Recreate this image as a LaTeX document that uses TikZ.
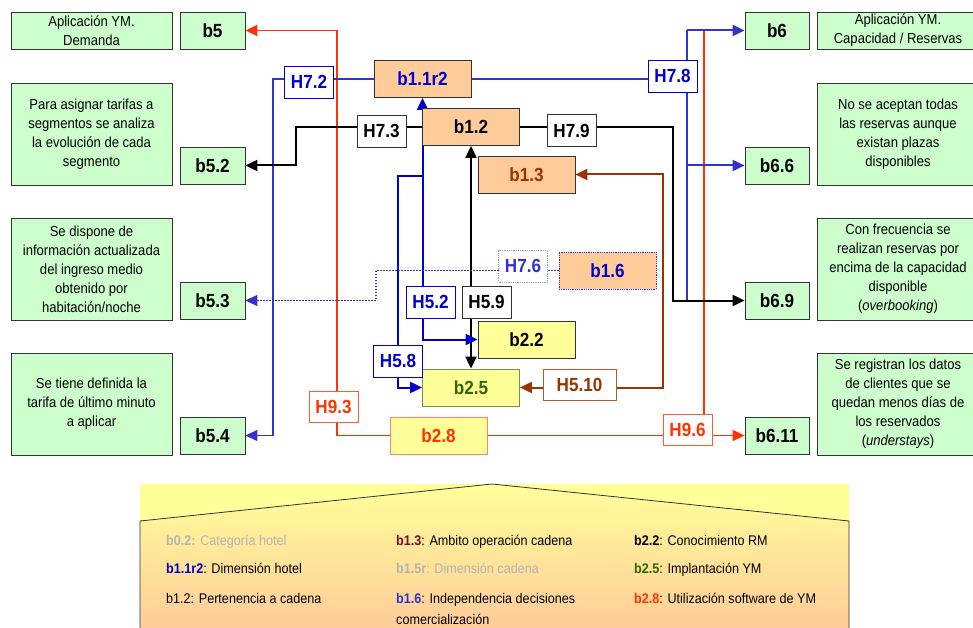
\documentclass[tikz,border=0pt]{standalone}
\usepackage{fontspec}
\setmainfont{Liberation Sans}[FakeStretch=0.9]
\usetikzlibrary{arrows.meta,backgrounds}
\definecolor{grn}{HTML}{CCFFCC}
\definecolor{org}{HTML}{FFCC99}
\definecolor{yel}{HTML}{FFFF99}
\definecolor{redl}{HTML}{FF3300}
\definecolor{bluem}{HTML}{3333CC}
\definecolor{blued}{HTML}{0000CC}
\definecolor{brn}{HTML}{993300}
\definecolor{grnt}{HTML}{336600}
\definecolor{lgray}{HTML}{B4B4B4}
\definecolor{maroon}{HTML}{7A0A2A}
\tikzset{
  desc/.style={draw=black!80, fill=grn, line width=0.8pt, align=center, inner sep=0pt,
    font=\fontsize{14.5}{19}\selectfont},
  bbox/.style={draw=black!80, fill=grn, line width=0.8pt, minimum width=65pt, minimum height=37pt,
    inner sep=0pt, font=\fontsize{19}{22}\selectfont\bfseries},
  cbox/.style={draw=black!80, fill=org, line width=0.8pt, minimum width=97pt, minimum height=37pt,
    inner sep=0pt, font=\fontsize{19}{22}\selectfont\bfseries},
  hbox/.style={draw, fill=white, line width=0.8pt, minimum width=49pt, minimum height=32pt,
    inner sep=0pt, font=\fontsize{19}{22}\selectfont\bfseries},
  leg/.style={anchor=base west, inner sep=0pt, font=\fontsize{14}{21}\selectfont},
  arr/.style={-{Triangle[length=12pt,width=11pt]}},
  arrb/.style={{Triangle[length=12pt,width=11pt]}-{Triangle[length=12pt,width=11pt]}},
  lnred/.style={draw=redl, line width=1.6pt},
  lnblue/.style={draw=bluem, line width=1.3pt},
  lnblue2/.style={draw=bluem, line width=2pt},
  lnblk/.style={draw=black, line width=2pt},
  lndblue/.style={draw=blued, line width=2pt},
  lnbrn/.style={draw=brn, line width=2pt},
  lndot/.style={draw=bluem, line width=1.3pt, dash pattern=on 1.3pt off 1.7pt},
}
\begin{document}
\begin{tikzpicture}[x=1pt,y=-1pt]
\useasboundingbox (0,0) rectangle (973,628);

% left description boxes
\node[desc, minimum width=161pt, minimum height=37pt] (dl1) at (91.5,30.5) {Aplicación YM.\\Demanda};
\node[desc, minimum width=161pt, minimum height=102pt] (dl2) at (91.5,134) {Para asignar tarifas a\\segmentos se analiza\\la evolución de cada\\segmento};
\node[desc, minimum width=161pt, minimum height=102pt] (dl3) at (91.5,269) {Se dispone de\\información actualizada\\del ingreso medio\\obtenido por\\habitación/noche};
\node[desc, minimum width=161pt, minimum height=102pt] (dl4) at (91.5,404) {Se tiene definida la\\tarifa de último minuto\\a aplicar};

\node[bbox] (b5) at (212.5,30.5) {b5};
\node[bbox] (b52) at (212.5,165.5) {b5.2};
\node[bbox] (b53) at (212.5,300.5) {b5.3};
\node[bbox] (b54) at (212.5,435.5) {b5.4};

% right side
\node[bbox, minimum width=64pt] (b6) at (777,30.5) {b6};
\node[bbox, minimum width=64pt] (b66) at (777,165.5) {b6.6};
\node[bbox, minimum width=64pt] (b69) at (777,300.5) {b6.9};
\node[bbox, minimum width=64pt] (b611) at (777,435.5) {b6.11};

\node[desc, minimum width=162pt, minimum height=37pt] (dr1) at (898,30.5) {Aplicación YM.\\Capacidad / Reservas};
\node[desc, minimum width=162pt, minimum height=102pt] (dr2) at (898,134) {No se aceptan todas\\las reservas aunque\\existan plazas\\disponibles};
\node[desc, minimum width=162pt, minimum height=102pt] (dr3) at (898,269) {Con frecuencia se\\realizan reservas por\\encima de la capacidad\\disponible\\(\textit{overbooking})};
\node[desc, minimum width=162pt, minimum height=102pt] (dr4) at (898,404) {Se registran los datos\\de clientes que se\\quedan menos días de\\los reservados\\(\textit{understays})};

% central boxes
\node[cbox, text=blued] (b11) at (422.5,79) {b1.1r2};
\node[cbox] (b12) at (471,127) {b1.2};
\node[cbox, text=brn] (b13) at (526.5,174.5) {b1.3};
\node[cbox, text=blued, draw=bluem, dash pattern=on 0.8pt off 1pt] (b16) at (607.5,270.5) {b1.6};
\node[cbox, fill=yel] (b22) at (526.5,339.5) {b2.2};
\node[cbox, fill=yel, draw=grnt!70, text=grnt] (b25) at (471,387.5) {b2.5};
\node[cbox, fill=yel, draw=redl!60, text=redl] (b28) at (438.5,435.5) {b2.8};

% labels
\node[hbox, draw=blued, text=blued] (h72) at (309,82) {H7.2};
\node[hbox, draw=black!80] (h73) at (381.5,131) {H7.3};
\node[hbox, draw=black!80] (h79) at (571.5,130.5) {H7.9};
\node[hbox, draw=blued, text=blued] (h78) at (672.5,76) {H7.8};
\node[hbox, draw=bluem!50, text=bluem, dash pattern=on 0.8pt off 1pt] (h76) at (523,266) {H7.6};
\node[hbox, draw=blued, text=blued] (h52) at (430.5,302) {H5.2};
\node[hbox, draw=black!80] (h59) at (486.5,302) {H5.9};
\node[hbox, draw=blued, text=blued] (h58) at (398,361) {H5.8};
\node[hbox, draw=brn!80, text=brn, minimum width=73pt, minimum height=31pt] (h510) at (579.5,384.5) {H5.10};
\node[hbox, draw=redl!80, text=redl, minimum height=31pt] (h93) at (333.5,406.5) {H9.3};
\node[hbox, draw=redl!80, text=redl, minimum height=31pt] (h96) at (687.5,430) {H9.6};

% legend text
\node[leg, text=lgray] (l1) at (166,545.5) {\textbf{b0.2:} Categoría hotel};
\node[leg] (l2) at (166,573.5) {\textbf{\color{blued}b1.1r2}: Dimensión hotel};
\node[leg] (l3) at (166,603) {b1.2: Pertenencia a cadena};
\node[leg] (l4) at (396,545.5) {\textbf{\color{maroon}b1.3}: Ambito operación cadena};
\node[leg, text=lgray] (l5) at (396,573.5) {\textbf{b1.5r}: Dimensión cadena};
\node[leg, anchor=north west, align=left] (l6) at (396,592.8) {\textbf{\color{bluem}b1.6}: Independencia decisiones\\comercialización};
\node[leg] (l7) at (634,545.5) {\textbf{b2.2}: Conocimiento RM};
\node[leg] (l8) at (634,573.5) {\textbf{\color{grnt}b2.5}: Implantación YM};
\node[leg] (l9) at (634,603) {\textbf{\color{redl}b2.8}: Utilización software de YM};

\begin{scope}[on background layer]
  % legend background
  \fill[yel] (140,484) rectangle (849,629);
  \shade[top color=yel, bottom color=org] (140,629) -- (140,521) -- (492,484) -- (849,521) -- (849,629) -- cycle;
  \draw[black!80, line width=0.8pt] (140,629) -- (140,521) -- (492,484) -- (849,521) -- (849,629);

  % red
  \draw[lnred, arr] (b28.west) -| (337,30.5) -- (b5.east);
  \draw[lnred, arr] (b28.east) -- (b611.west);
  \draw[lnred] (h96.south -| 704,0) -- (704,30.5);
  % medium blue
  \draw[lnblue, arr] (b11.west) -| (273,435.5) -- (b54.east);
  \draw[lnblue] (b11.east) -| (687,300.5);
  \draw[lnblue2, arr] (687,30.5) -- (b6.west);
  \draw[lnblue2] (687,30.5) -- (687,79);
  \draw[lnblue2, arr] (687,165.5) -- (b66.west);
  % black
  \draw[lnblk, arr] (b12.west) -| (296,165.5) -- (b52.east);
  \draw[lnblk, arr] (b12.east) -| (673,300.5) -- (b69.west);
  \draw[lnblk, arrb] (b12.south) -- (b25.north);
  % dark blue
  \draw[lndblue, arrb] (b22.west) -| (b11.south);
  \draw[lndblue, arr] (422.5,176) -| (398,387.5) -- (b25.west);
  % brown
  \draw[lnbrn, arrb] (b13.east) -| (663,387.5) -- (b25.east);
  % dotted
  \draw[lndot, arr] (b16.west) -| (376,300.5) -- (b53.east);
\end{scope}
\end{tikzpicture}
\end{document}
